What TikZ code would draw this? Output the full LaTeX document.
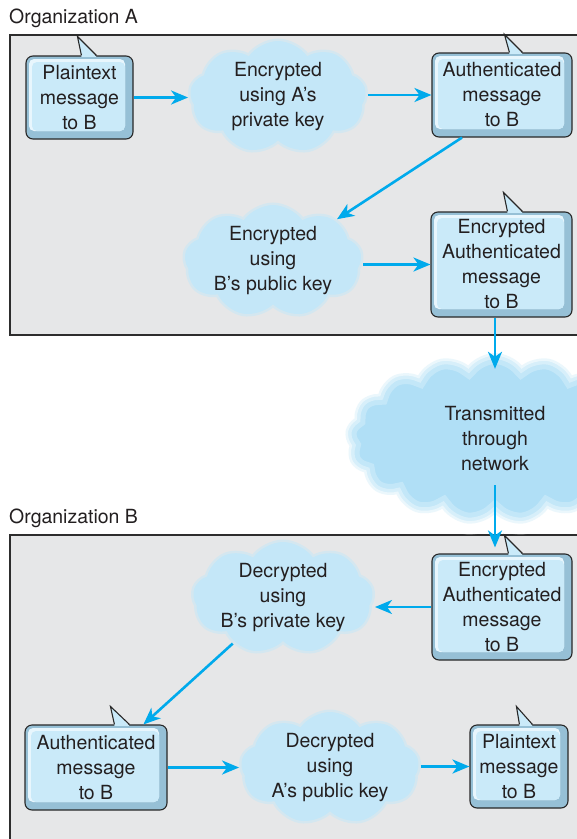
\documentclass[tikz,border=0pt]{standalone}
\usepackage{fontspec}
\setmainfont{TeX Gyre Heros}
\usetikzlibrary{arrows.meta, shapes.symbols, calc}
\definecolor{panelfill}{RGB}{230,231,232}
\definecolor{panelborder}{RGB}{45,45,45}
\definecolor{msgfill}{RGB}{202,234,249}
\definecolor{msgshade}{RGB}{150,192,214}
\definecolor{msglight}{RGB}{232,246,253}
\definecolor{msgborder}{RGB}{40,40,40}
\definecolor{cloudfill}{RGB}{196,231,248}
\definecolor{netfill}{RGB}{176,223,246}
\definecolor{flow}{RGB}{0,170,236}
\definecolor{inktext}{RGB}{35,31,32}
\newcommand\msgfont{\fontsize{19.5}{25}\selectfont}
% speech bubble tail: node, base left, base right, apex x, apex height
\newcommand\msgtail[5]{%
  \fill[msgfill] ($(#1.north west)+(#2,1.5)$) -- ($(#1.north west)+(#4,-#5)$) -- ($(#1.north west)+(#3,1.5)$) -- cycle;
  \draw[msgborder, line width=1.1pt] ($(#1.north west)+(#2,0)$) -- ($(#1.north west)+(#4,-#5)$) -- ($(#1.north west)+(#3,0)$);
}
\tikzset{
  panel/.style={draw=panelborder, fill=panelfill, line width=1.2pt},
  orglabel/.style={font=\msgfont, text=inktext, anchor=base west, inner sep=0pt},
  msgbox/.style={draw=msgborder, fill=msgshade, rounded corners=7pt, line width=1.1pt, align=center, font=\msgfont, text=inktext, inner sep=0pt,
    path picture={
      \fill[msglight, rounded corners=5pt] ($(path picture bounding box.south west)+(3pt,8pt)$) rectangle ($(path picture bounding box.north east)+(-8pt,-3pt)$);
      \fill[msgfill, rounded corners=5pt] ($(path picture bounding box.south west)+(6pt,8pt)$) rectangle ($(path picture bounding box.north east)+(-8pt,-6pt)$);
    }},
  cloudbox/.style={cloud, cloud puffs=9, cloud puff arc=110, cloud ignores aspect, fill=cloudfill, draw=cloudfill, draw opacity=0.5, line width=5pt, inner sep=0pt},
  netcloud/.style={cloud, cloud puffs=17, cloud puff arc=100, cloud ignores aspect, fill=netfill, inner sep=0pt,
    postaction={draw=white, line width=22pt, draw opacity=0.25},
    postaction={draw=white, line width=12pt, draw opacity=0.35},
    postaction={draw=white, line width=5pt, draw opacity=0.5}},
  cloudtext/.style={font=\msgfont, text=inktext, align=center, inner sep=0pt},
  arrow/.style={-{Stealth[length=17pt, width=14pt, inset=5pt]}, line width=2.6pt, color=flow},
}

\begin{document}
\begin{tikzpicture}[x=1pt, y=-1pt]
  \useasboundingbox (0,0) rectangle (577,839);
  \clip (0,0) rectangle (577,839);

  % --- Organizations ---
  \draw[panel] (10,35) rectangle (600,335);
  \draw[panel] (10,535) rectangle (600,860);
  \node[orglabel] (orgA) at (9,23) {Organization A};
  \node[orglabel] (orgB) at (9,523) {Organization B};

  % --- Clouds ---
  \node[cloudbox, minimum width=176pt, minimum height=112pt, label={[cloudtext]center:Encrypted\\using A's\\private key}] (encA) at (278,97) {};
  \node[cloudbox, minimum width=177pt, minimum height=112pt, label={[cloudtext]center:Encrypted\\using\\B's public key}] (encB) at (273,261) {};
  \node[netcloud, minimum width=300pt, minimum height=172pt, label={[cloudtext]center:Transmitted\\through\\network}] (net) at (495,439) {};
  \node[cloudbox, minimum width=180pt, minimum height=112pt, label={[cloudtext]center:Decrypted\\using\\B's private key}] (decB) at (283,598) {};
  \node[cloudbox, minimum width=178pt, minimum height=112pt, label={[cloudtext]center:Decrypted\\using\\A's public key}] (decA) at (330,768) {};

  % --- Messages ---
  \node[msgbox, minimum width=107pt, minimum height=83pt] (plainA) at (79.5,97.5) {Plaintext\\message\\to B};
  \node[msgbox, minimum width=140pt, minimum height=84pt] (authA) at (502,95) {Authenticated\\message\\to B};
  \node[msgbox, minimum width=141pt, minimum height=105pt] (encAuthA) at (501.5,264.5) {Encrypted\\Authenticated\\message\\to B};
  \node[msgbox, minimum width=140pt, minimum height=106pt] (encAuthB) at (502,607) {Encrypted\\Authenticated\\message\\to B};
  \node[msgbox, minimum width=142pt, minimum height=85pt] (authB) at (96,767.5) {Authenticated\\message\\to B};
  \node[msgbox, minimum width=98pt, minimum height=83pt] (plainB) at (519,766.5) {Plaintext\\message\\to B};

  \msgtail{plainA}{56}{71}{52}{19}
  \msgtail{authA}{78}{91}{73}{18}
  \msgtail{encAuthA}{77}{92}{73}{19}
  \msgtail{encAuthB}{77}{91}{73}{18}
  \msgtail{authB}{90}{105}{86}{18}
  \msgtail{plainB}{50}{63}{47}{18}

  % --- Arrows ---
  \draw[arrow] (plainA.east) -- (plainA.east -| encA.west);
  \draw[arrow] (encA.east |- authA.west) -- (authA.west);
  \draw[arrow] ([xshift=-40pt]authA.south) -- (encB);
  \draw[arrow] (encB.east |- encAuthA.west) -- (encAuthA.west);
  \draw[arrow] (encAuthA.south -| net) -- ($(net.north)+(0,16)$);
  \draw[arrow] ($(net.center)+(0,46)$) -- ($(encAuthB.north -| net)+(0,-6)$);
  \draw[arrow] (encAuthB.west) -- (encAuthB.west -| decB.east);
  \draw[arrow] (decB) -- (authB);
  \draw[arrow] (authB.east) -- (authB.east -| decA.west);
  \draw[arrow] (decA.east |- plainB.west) -- (plainB.west);

\end{tikzpicture}
\end{document}
